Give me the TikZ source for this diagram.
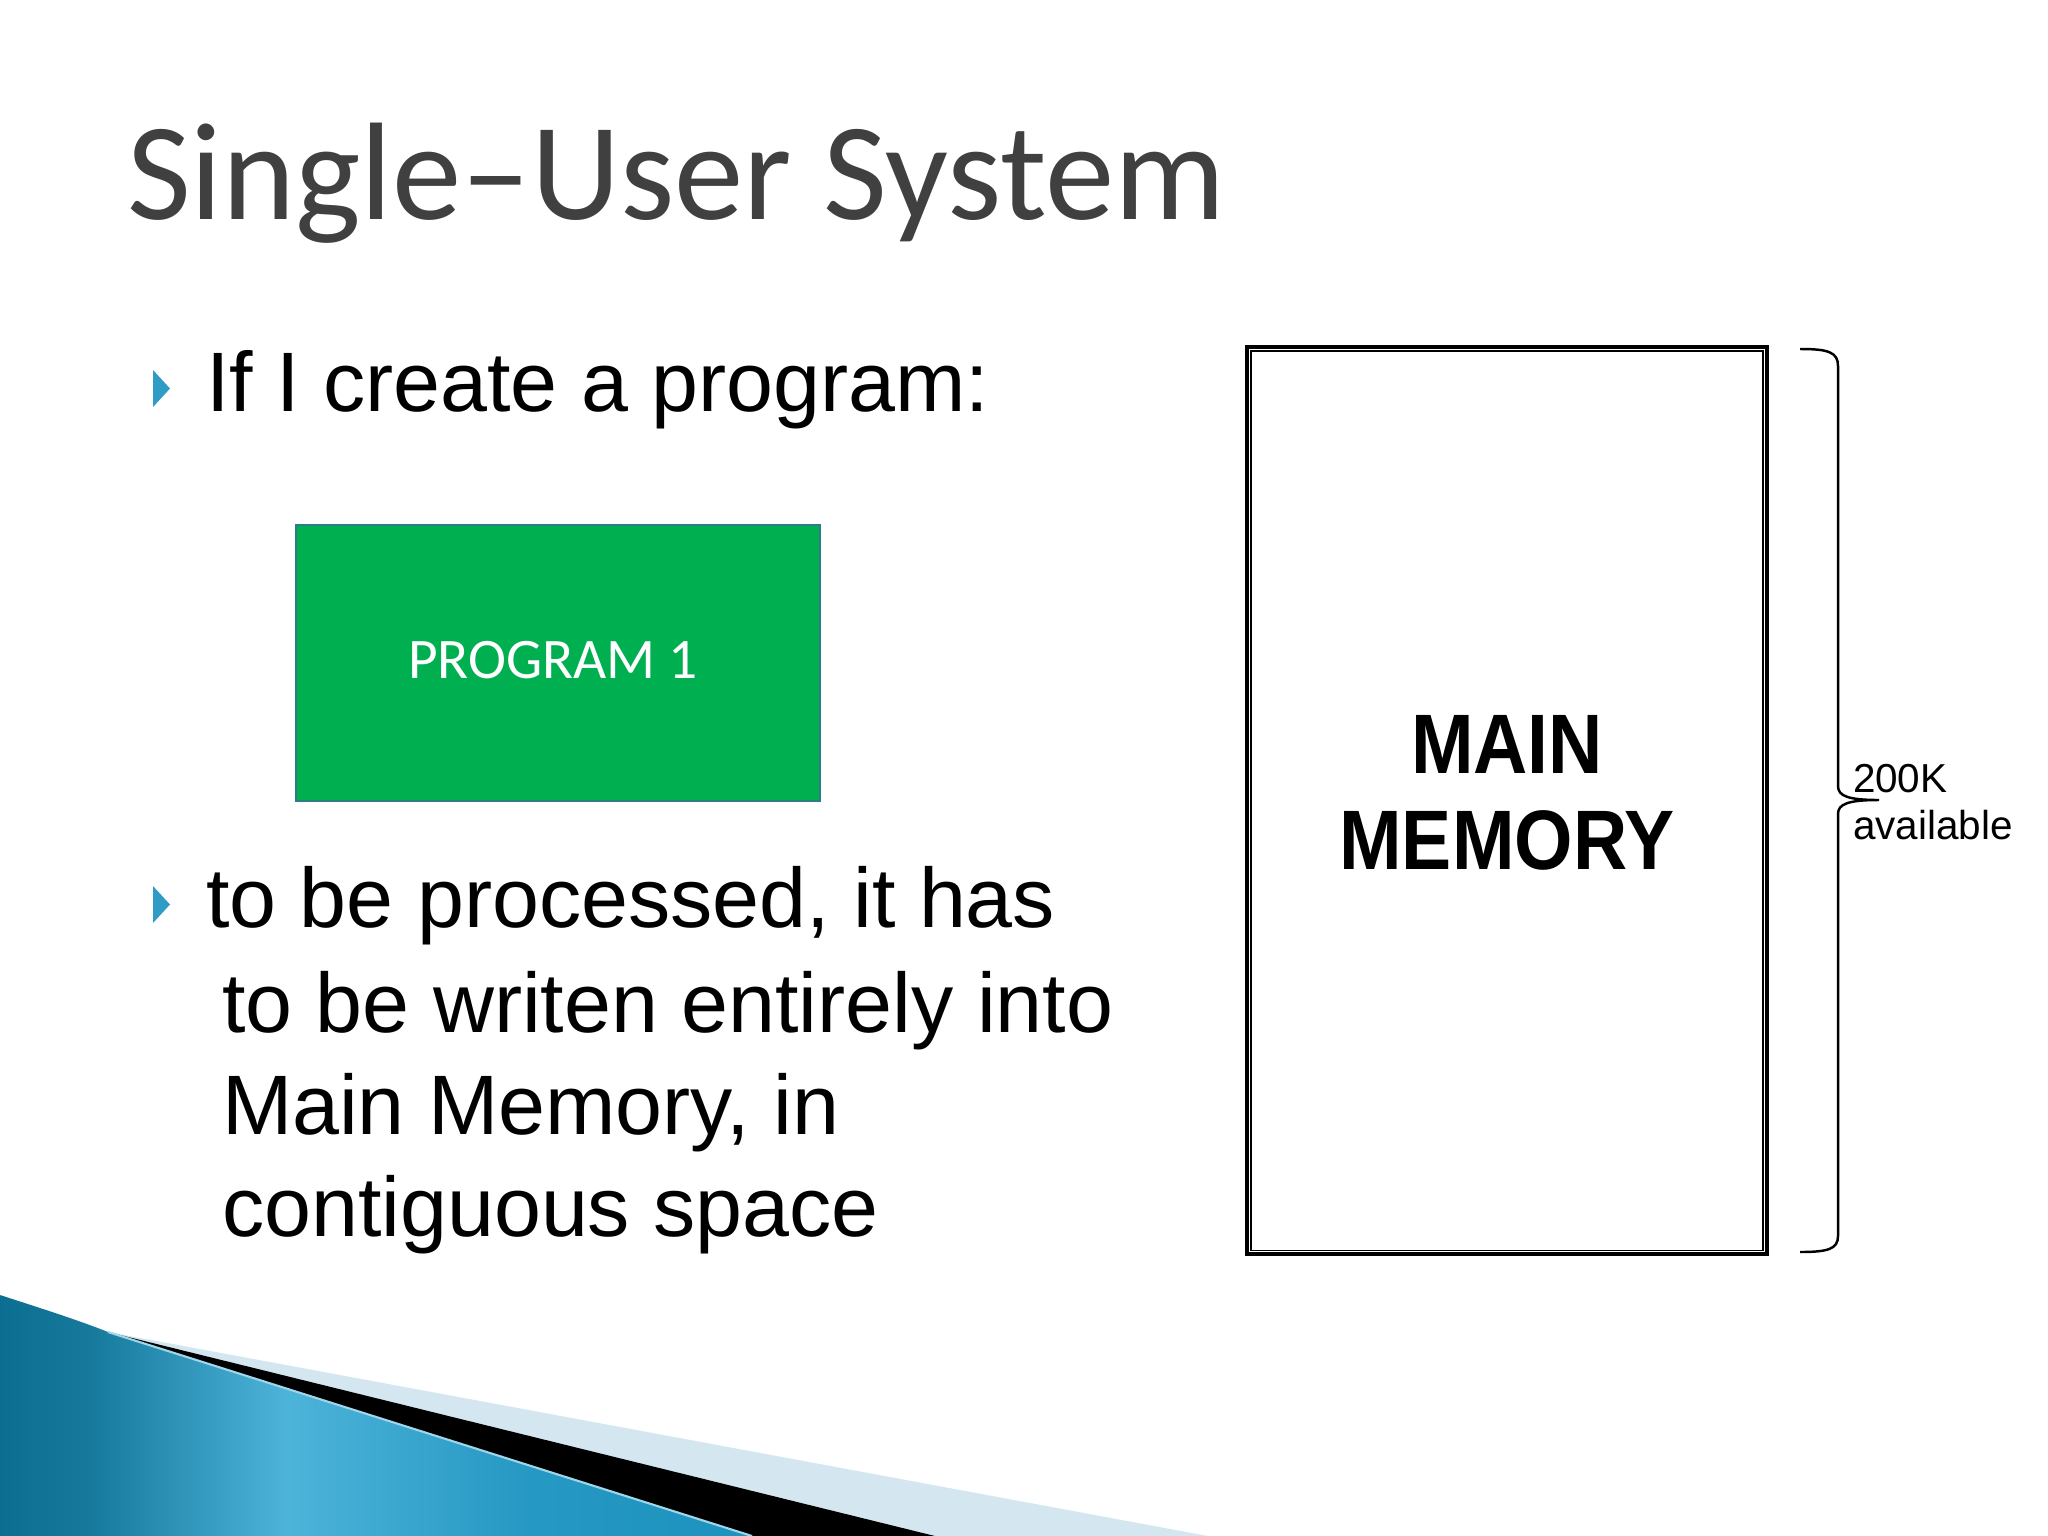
\documentclass[tikz,border=0pt]{standalone}
\usepackage{fontspec}
\setmainfont{Liberation Sans}
\newfontfamily\titlefont{Carlito}
\newfontfamily\progfont{Carlito}
\usetikzlibrary{calc}
\definecolor{titlegray}{HTML}{404040}
\definecolor{bulletblue}{HTML}{2E9CC4}
\definecolor{proggreen}{HTML}{00B050}
\definecolor{progborder}{HTML}{2E7D86}
\definecolor{wavedark}{HTML}{0C6F92}
\definecolor{wavelight}{HTML}{4DB3D9}
\definecolor{wavemid}{HTML}{1C92BE}
\definecolor{wavepale}{HTML}{D4E7F0}
\definecolor{waveedge}{HTML}{9ED6EA}
\pgfdeclarehorizontalshading{waveshade}{100bp}{color(0bp)=(wavedark); color(25bp)=(wavedark); color(31bp)=(wavedark!85!wavelight); color(44bp)=(wavelight); color(60bp)=(wavemid!80!wavelight); color(75bp)=(wavemid); color(100bp)=(wavemid)}
\tikzset{
  txt/.style={inner sep=0pt, outer sep=0pt, anchor=base west},
  bodytxt/.style={txt, font=\fontsize{24}{28}\selectfont, text=black},
  titletxt/.style={txt, font=\titlefont\fontsize{39.5}{46}\selectfont, text=titlegray},
  bullet/.style={fill=bulletblue, draw=none},
  progbox/.style={draw=progborder, line width=0.55pt, fill=proggreen, minimum width=5.23cm, minimum height=2.76cm, inner sep=0pt},
  progtxt/.style={inner sep=0pt, anchor=base, font=\progfont\fontsize{16.3}{20}\selectfont, text=white},
  membox/.style={draw=black, line width=1.1pt, minimum width=5.2cm, minimum height=9.07cm, inner sep=0pt},
  memtxt/.style={inner sep=0pt, anchor=base, font=\bfseries\fontsize{24}{28}\selectfont, xscale=0.89, transform shape},
  smalltxt/.style={txt, font=\fontsize{11.5}{14}\selectfont, text=black},
  bracestyle/.style={draw=black, line width=0.7pt}
}
\begin{document}
\begin{tikzpicture}[x=0.01cm,y=-0.01cm]
\fill[white] (0,0) rectangle (2048,1536);
\useasboundingbox (0,0) rectangle (2048,1536);

% bottom decoration
\fill[wavepale] (108,1332) -- (1208,1536) -- (935,1536) -- cycle;
\fill[black] (108,1332) -- (935,1536) -- (752,1536) -- cycle;
\shade[shading=waveshade]
  (0,1295) .. controls (40,1308) and (78,1320) .. (108,1332) -- (752,1536) -- (0,1536) -- cycle;
\draw[waveedge, line width=0.6pt] (108,1332) -- (752,1536);

% title
\node[titletxt] (title) at (127,219) {Single–User System};

% bullets
\fill[bullet] (153,370) -- (170,388.5) -- (153,407) -- cycle;
\fill[bullet] (153,886) -- (170,904.5) -- (153,923) -- cycle;

\node[bodytxt] (l1) at (206,411) {If I create a program:};
\node[bodytxt] (l2) at (206,927) {to be processed, it has};
\node[bodytxt] (l3) at (222,1032) {to be writen entirely into};
\node[bodytxt] (l4) at (222,1134) {Main Memory, in};
\node[bodytxt] (l5) at (222,1236) {contiguous space};

% program box
\node[progbox] (prog) at (558,663) {};
\node[progtxt] (progt) at (553,678) {PROGRAM 1};

% main memory
\node[membox] (mem) at (1507,800.5) {};
\draw[black, line width=0.4pt] ([shift={(6,6)}]mem.north west) rectangle ([shift={(-6,-6)}]mem.south east);
\node[memtxt] (main) at (1507,773) {MAIN};
\node[memtxt] (memory) at (1507,869) {MEMORY};

% brace
\coordinate (bt) at (1800,349);
\coordinate (bm) at (1879,800);
\coordinate (bb) at (1800,1252);
\draw[bracestyle] (bt) .. controls (1828,349) and (1838,352) .. (1838,366)
  -- (1838,786) .. controls (1838,796) and (1848,800) .. (bm)
  .. controls (1848,800) and (1838,804) .. (1838,814)
  -- (1838,1236) .. controls (1838,1249) and (1828,1252) .. (bb);

\node[smalltxt] (k200) at (1853,792) {200K};
\node[smalltxt] (avail) at (1853,839) {available};
\end{tikzpicture}
\end{document}
